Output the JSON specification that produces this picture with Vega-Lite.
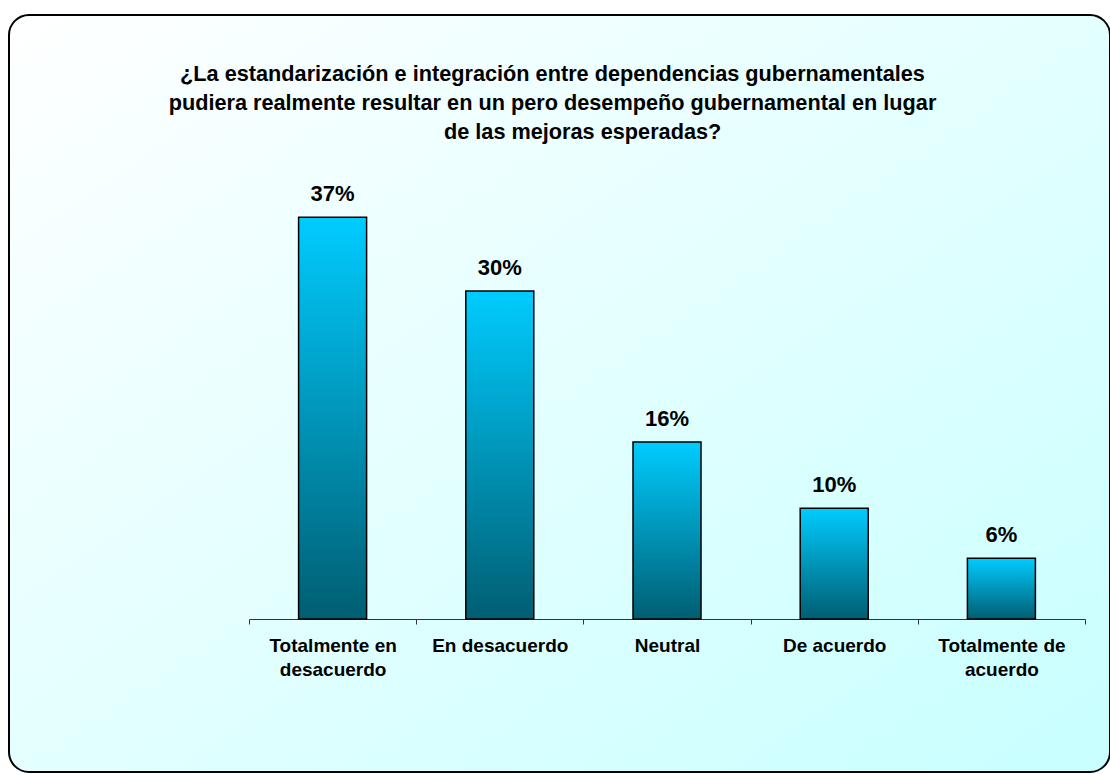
{
  "$schema": "https://vega.github.io/schema/vega-lite/v6.json",
  "width": 1101,
  "height": 757,
  "autosize": {"type": "none"},
  "padding": {"left": 9, "top": 15, "right": 0, "bottom": 2},
  "background": "#FFFFFF",
  "config": {
    "font": "Liberation Sans",
    "view": {
      "fill": {"gradient": "linear", "x1": 0, "y1": 0, "x2": 1, "y2": 1,
        "stops": [{"offset": 0, "color": "#FFFFFF"}, {"offset": 1, "color": "#C8FFFF"}]},
      "stroke": "#000000",
      "strokeWidth": 2,
      "cornerRadius": 20
    }
  },
  "title": {
    "text": [
      "¿La estandarización e integración entre dependencias gubernamentales",
      "pudiera realmente resultar en un pero desempeño gubernamental en lugar",
      "\u200b\u00a0\u00a0\u00a0\u00a0\u00a0\u00a0\u00a0\u00a0\u00a0\u00a0de las mejoras esperadas?"
    ],
    "font": "Liberation Sans",
    "fontSize": 21.7,
    "fontWeight": "bold",
    "color": "#000000",
    "anchor": "middle",
    "lineHeight": 29,
    "dx": -7,
    "dy": 133
  },
  "data": {
    "values": [
      {"cat": "Totalmente en desacuerdo", "pct": 0.370},
      {"cat": "En desacuerdo", "pct": 0.302},
      {"cat": "Neutral", "pct": 0.163},
      {"cat": "De acuerdo", "pct": 0.102},
      {"cat": "Totalmente de acuerdo", "pct": 0.056}
    ]
  },
  "encoding": {
    "x": {
      "field": "cat",
      "type": "nominal",
      "sort": null,
      "scale": {"range": [240, 1076], "paddingInner": 0, "paddingOuter": 0},
      "axis": {
        "title": null,
        "orient": "bottom",
        "offset": -153,
        "tickBand": "extent",
        "grid": false,
        "domainColor": "#333333",
        "domainWidth": 1,
        "tickColor": "#333333",
        "tickSize": 5,
        "labelAngle": 0,
        "labelFont": "Liberation Sans",
        "labelFontSize": 19,
        "labelFontWeight": "bold",
        "labelColor": "#000000",
        "labelPadding": 12,
        "labelLineHeight": 24,
        "labelOverlap": false,
        "labelLimit": 300,
        "labelExpr": "datum.value == 'Totalmente en desacuerdo' ? ['Totalmente en', 'desacuerdo'] : datum.value == 'Totalmente de acuerdo' ? ['Totalmente de', 'acuerdo'] : datum.value"
      }
    },
    "y": {
      "field": "pct",
      "type": "quantitative",
      "scale": {"domain": [0, 0.4], "range": [604, 169.6]},
      "axis": null
    }
  },
  "layer": [
    {
      "mark": {
        "type": "bar",
        "width": 68,
        "stroke": "#000000",
        "strokeWidth": 1.5,
        "fill": {"gradient": "linear", "x1": 0, "y1": 0, "x2": 0, "y2": 1,
          "stops": [{"offset": 0, "color": "#00CCFF"}, {"offset": 1, "color": "#005E72"}]}
      }
    },
    {
      "mark": {
        "type": "text",
        "baseline": "alphabetic",
        "align": "center",
        "dy": -16,
        "font": "Liberation Sans",
        "fontSize": 22,
        "fontWeight": "bold",
        "color": "#000000"
      },
      "encoding": {
        "text": {"field": "pct", "type": "quantitative", "format": ".0%"}
      }
    }
  ]
}
